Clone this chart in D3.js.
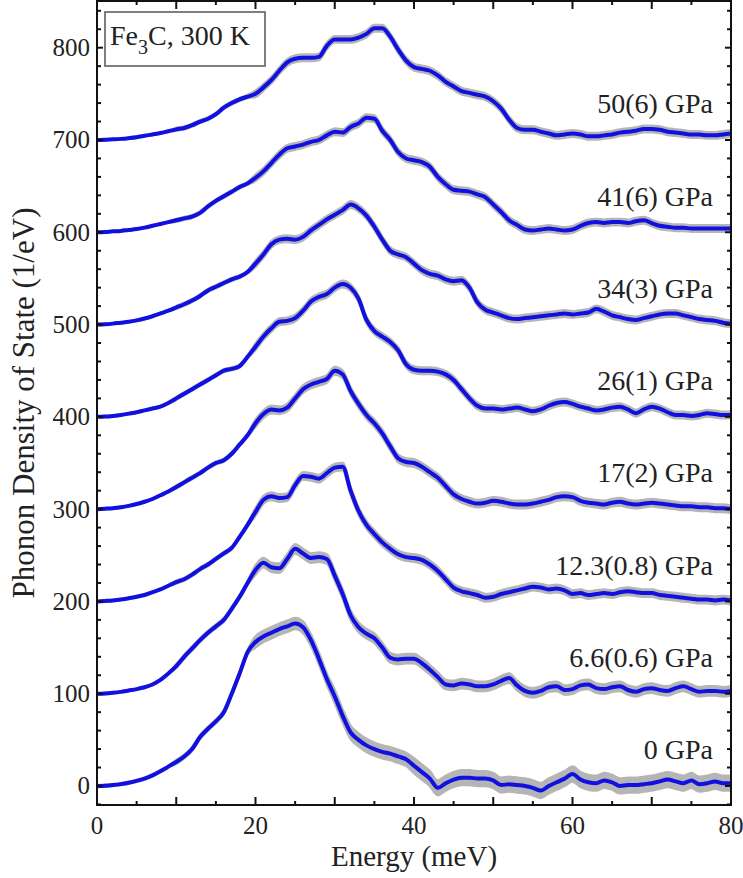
<!DOCTYPE html>
<html>
<head>
<meta charset="utf-8">
<script src="https://cdn.jsdelivr.net/npm/d3@7"></script>
<style>
  html, body { margin: 0; padding: 0; background: #fff; }
  svg { display: block; }
  text { font-family: "Liberation Serif", "Times New Roman", serif; fill: #222; }
</style>
</head>
<body>
<svg id="chart" width="743" height="878"></svg>
<script>
// Energy grid (meV)
const energy = d3.range(0, 81);

// Phonon DOS (1/eV) of Fe3C at 300 K, one array per pressure
const dos0 = [0,0.3,1,2,3.5,5.5,8,11.5,16,21,26,32,40,53,62,70,80,100,122,145,156,162,166,170,173,176,172,158,138,116,97,76,58,50,44,40,37,35,32,29,22,15,8,-2,3,7,9,9,8,8,6,1,2,1,0,-2,-5,0,4,8,13,7,4,3,6,4,0,1,1,2,3,5,7,5,3,6,2,3,5,3,3];
const dos6_6 = [0,0.3,1,2,3.5,5,7,10,15,22,30,40,49,58,66,73,80,92,105,120,134,142,137,136,146,157,152,147,148,146,128,108,85,72,65,60,50,39,37,38,38,33,26,18,10,9,11,10,8,8,10,14,17,9,3,1,3,7,8,4,5,9,10,6,5,7,8,4,2,5,6,4,3,6,8,5,2,3,3,2,3];
const dos12_3 = [0,0.5,1,2,3.5,5,7,10,13,17,21,24,29,35,40,46,52,58,70,83,97,110,114,112,113,126,136,135,133,139,145,146,120,98,83,73,64,57,51,48,47,45,40,33,24,15,11,9,7,4,5,8,10,12,14,16,15,13,14,12,8,9,7,8,9,8,10,11,10,9,9,7,6,5,4,3,2,2,1,2,1];
const dos17 = [0,0.5,1,2,3.5,5.5,8,11,15,19,24,29,34,39,45,50,53,60,70,80,93,103,108,107,110,120,130,135,138,141,150,146,128,114,102,93,82,68,55,51,50,46,40,34,25,16,11,8,6,7,9,8,6,5,5,6,8,10,13,14,13,9,7,6,5,7,8,6,5,6,7,6,5,4,3,3,2,2,1,1,0];
const dos26 = [0,0.3,1,2,3.5,5,7,9,11,15,20,25,30,35,40,45,50,52,55,65,76,87,96,103,104,107,115,125,130,133,140,144,140,128,105,93,87,81,72,57,51,50,50,49,46,40,30,20,12,9,9,8,9,10,8,6,8,12,15,16,14,11,9,7,8,10,11,8,4,8,11,9,5,2,2,1,2,4,3,2,2];
const dos34 = [0,0.3,1,2,3,4.5,6.5,9,12,15,18.5,22,26,31,37,41,45,49,52,57,66,76,87,92,93,92,95,102,108,114,119,124,130,126,118,106,92,80,76,73,66,59,55,53,49,47,48,40,24,16,13,10,7,6,7,8,9,10,11,12,11,12,13,17,14,10,8,6,5,7,9,11,12,12,10,8,6,5,4,2,1];
const dos41 = [0,0.3,1,1.5,2.5,3.5,5,7,9,11,13,15,17,21,28,34,39,44,49,53,59,66,75,84,91,93,95,98,100,105,109,108,114,118,124,123,110,100,87,80,78,76,71,60,52,46,45,44,41,38,30,22,13,8,3,2,3,4,3,2,3,7,10,11,10,11,11,10,12,13,10,7,6,5,5,4,4,4,4,4,4];
const dos50 = [0,0.3,0.7,1.2,2,3,4.5,6,7.5,9.5,11.5,13,16,20,23,28,35,40,44,47,50,57,65,75,84,88,89,89,90,102,109,109,109,111,115,121,121,112,98,86,79,77,75,70,63,58,53,51,49,47,42,34,22,13,11,11,9,7,5,6,7,6,4,4,5,6,8,9,10,12,12,11,9,8,7,6,6,5,5,6,7];

// Uncertainty (1/eV) per 10 meV energy bin
const err0 = [1, 2, 6, 7, 8, 8, 8, 8];
const err6_6 = [0.5, 2, 5, 5, 5, 5, 5, 5];
const err12_3 = [0.5, 1.5, 4, 4, 4, 4, 4, 4];
const err17 = [0.5, 1.5, 4, 4, 4, 4, 4, 4];
const err26 = [0.5, 1.5, 3.5, 3.5, 3.5, 3.5, 3.5, 3.5];
const err34 = [0.5, 1.5, 3.5, 3.5, 3.5, 3.5, 3.5, 3.5];
const err41 = [0.5, 1.5, 3.5, 3.5, 3.5, 3.5, 3.5, 3.5];
const err50 = [0.5, 1.5, 3.5, 3.5, 3.5, 3.5, 3.5, 3.5];

// Pressure labels and vertical offsets of the stacked spectra
const pressureLabels = ["0 GPa", "6.6(0.6) GPa", "12.3(0.8) GPa", "17(2) GPa", "26(1) GPa", "34(3) GPa", "41(6) GPa", "50(6) GPa"];
const offsets = [0, 100, 200, 300, 400, 500, 600, 700];

const xTicks = d3.range(0, 81, 5);
const xTickLabels = [0, 20, 40, 60, 80];
const yTicks = d3.range(-20, 841, 20);
const yTickLabels = [0, 100, 200, 300, 400, 500, 600, 700, 800];

const seriesValues = [dos0, dos6_6, dos12_3, dos17, dos26, dos34, dos41, dos50];
const seriesErrors = [err0, err6_6, err12_3, err17, err26, err34, err41, err50];

// ---- layout ----
const svg = d3.select("#chart");
const plotL = 97, plotR = 731, plotT = 1, plotB = 805;
const x = d3.scaleLinear().domain([0, 80]).range([plotL, plotR]);
const y = d3.scaleLinear().domain([-20.6, 850.6]).range([plotB, plotT]);

const blue = "#1010e0";
const grey = "#a9a9a9";

svg.append("defs").append("clipPath").attr("id", "clip")
  .append("rect").attr("x", plotL).attr("y", plotT).attr("width", plotR - plotL).attr("height", plotB - plotT);
const plot = svg.append("g").attr("clip-path", "url(#clip)");

seriesValues.forEach((vals, i) => {
  const off = offsets[i];
  const errs = seriesErrors[i];
  const pts = energy.map((e, k) => ({
    e, v: vals[k] + off, s: errs[Math.min(errs.length - 1, Math.floor(e / 10))]
  }));

  // error band
  const area = d3.area()
    .x(d => x(d.e))
    .y0(d => y(d.v - d.s))
    .y1(d => y(d.v + d.s))
    .curve(d3.curveMonotoneX);
  plot.append("path").datum(pts)
    .attr("d", area)
    .attr("fill", grey)
    .attr("stroke", grey)
    .attr("stroke-width", 2.5)
    .attr("opacity", 0.85);

  // data
  const line = d3.line()
    .x(d => x(d.e))
    .y(d => y(d.v))
    .curve(d3.curveMonotoneX);
  plot.append("path").datum(pts)
    .attr("d", line)
    .attr("fill", "none")
    .attr("stroke", blue)
    .attr("stroke-width", 4)
    .attr("stroke-linejoin", "round");

  // pressure label
  svg.append("text")
    .attr("x", 713)
    .attr("y", y(off + 29))
    .attr("text-anchor", "end")
    .attr("font-size", 28)
    .text(pressureLabels[i]);
});

// ---- frame and ticks ----
const axes = svg.append("g").attr("stroke", "#111").attr("stroke-width", 2);
axes.append("rect")
  .attr("x", plotL).attr("y", plotT)
  .attr("width", plotR - plotL).attr("height", plotB - plotT)
  .attr("fill", "none");

xTicks.forEach(t => {
  const len = t % 10 === 0 ? 8 : 4;
  axes.append("line").attr("x1", x(t)).attr("x2", x(t)).attr("y1", plotB).attr("y2", plotB - len);
  axes.append("line").attr("x1", x(t)).attr("x2", x(t)).attr("y1", plotT).attr("y2", plotT + len);
});
yTicks.forEach(t => {
  const len = t % 100 === 0 ? 6 : 4;
  axes.append("line").attr("x1", plotL).attr("x2", plotL + len).attr("y1", y(t)).attr("y2", y(t));
  axes.append("line").attr("x1", plotR).attr("x2", plotR - len).attr("y1", y(t)).attr("y2", y(t));
});

xTickLabels.forEach(t => {
  svg.append("text")
    .attr("x", x(t)).attr("y", 834)
    .attr("text-anchor", "middle")
    .attr("font-size", 25)
    .text(t);
});
yTickLabels.forEach(t => {
  svg.append("text")
    .attr("x", 90).attr("y", y(t))
    .attr("dy", "0.34em")
    .attr("text-anchor", "end")
    .attr("font-size", 25)
    .text(t);
});

// axis titles
svg.append("text")
  .attr("x", x(40)).attr("y", 866)
  .attr("text-anchor", "middle")
  .attr("font-size", 29)
  .text("Energy (meV)");
svg.append("text")
  .attr("transform", "translate(34, 403) rotate(-90)")
  .attr("text-anchor", "middle")
  .attr("font-size", 31)
  .text("Phonon Density of State (1/eV)");

// sample annotation box
svg.append("rect")
  .attr("x", 105).attr("y", 12).attr("width", 160).attr("height", 54)
  .attr("fill", "#fff").attr("stroke", "#555").attr("stroke-width", 1.5);
const ann = svg.append("text").attr("x", 110).attr("y", 45).attr("font-size", 28);
ann.append("tspan").text("Fe");
ann.append("tspan").attr("dy", 9).attr("font-size", 20).text("3");
ann.append("tspan").attr("dy", -9).text("C, 300 K");
</script>
</body>
</html>
